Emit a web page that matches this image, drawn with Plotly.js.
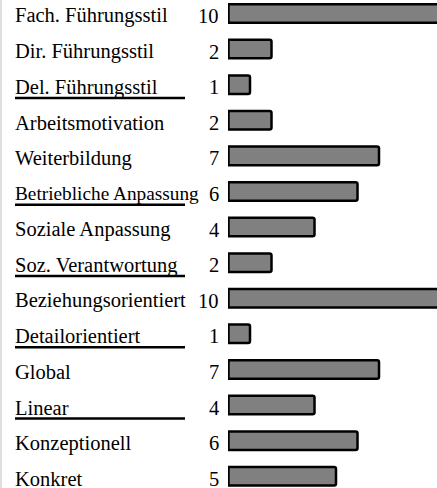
<!DOCTYPE html>
<html>
<head>
<meta charset="utf-8">
<script src="https://cdn.plot.ly/plotly-3.0.1.min.js"></script>
<style>html,body{margin:0;padding:0;background:#fff;}#chart{width:437px;height:488px;}</style>
</head>
<body>
<div id="chart"></div>
<script>
const categories = ["Fach. Führungsstil","Dir. Führungsstil","Del. Führungsstil","Arbeitsmotivation","Weiterbildung","Betriebliche Anpassung","Soziale Anpassung","Soz. Verantwortung","Beziehungsorientiert","Detailorientiert","Global","Linear","Konzeptionell","Konkret"];
const values = [10,2,1,2,7,6,4,2,10,1,7,4,6,5];
const underlined = ["Del. Führungsstil","Betriebliche Anpassung","Soz. Verantwortung","Detailorientiert","Linear"];

const W = 437, L = 228, PW = W - L;
const px = p => (p - L) / PW;
const font = {family: "Liberation Serif", size: 20.5, color: "#000"};
const fontTight = {family: "Liberation Serif", size: 19.3, color: "#000"};

const annotations = [];
const shapes = [];
categories.forEach((c, i) => {
  annotations.push({xref: "paper", yref: "y", x: px(12.5), y: i, text: c, showarrow: false,
    xanchor: "left", yanchor: "middle", yshift: -2.5, font: c.length > 20 ? fontTight : font});
  annotations.push({xref: "x", yref: "y", x: 0, y: i, text: String(values[i]), showarrow: false,
    xanchor: "right", yanchor: "middle", xshift: -7, yshift: -2.5, font: font});
  if (underlined.includes(c)) {
    shapes.push({type: "line", xref: "paper", yref: "y", x0: px(15), x1: px(185), y0: i + 0.375, y1: i + 0.375,
      line: {color: "#000", width: 2.5}});
  }
});
shapes.push({type: "line", xref: "paper", yref: "paper", x0: px(1), x1: px(1), y0: 0, y1: 1,
  line: {color: "#d4d4d4", width: 1.5}});

const trace = {
  type: "bar", orientation: "h", y: categories, x: values, width: 0.52,
  marker: {color: "#808080", line: {color: "#000", width: 2.5}},
  hoverinfo: "none"
};

Plotly.newPlot("chart", [trace], {
  width: 437, height: 488,
  margin: {l: L, r: 0, t: 0, b: 0},
  paper_bgcolor: "#fff", plot_bgcolor: "#fff",
  showlegend: false,
  barcornerradius: 2,
  xaxis: {range: [-0.023, 9.697], showgrid: false, zeroline: false, showticklabels: false, showline: false, ticks: ""},
  yaxis: {type: "category", categoryarray: categories, range: [13.33, -0.379], showgrid: false, zeroline: false,
    showticklabels: false, showline: false, ticks: ""},
  annotations: annotations,
  shapes: shapes
}, {displayModeBar: false, staticPlot: true});
</script>
</body>
</html>
